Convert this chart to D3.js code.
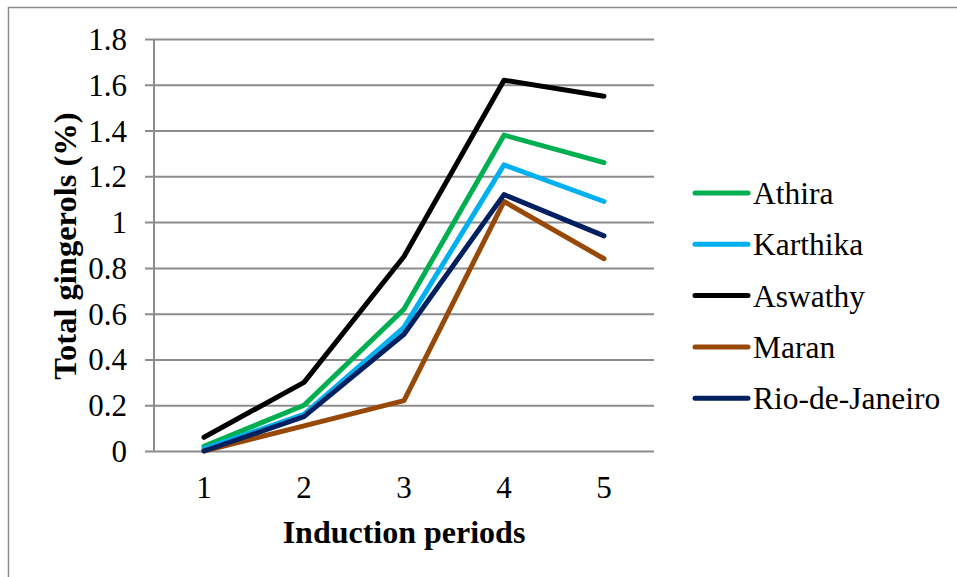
<!DOCTYPE html>
<html>
<head>
<meta charset="utf-8">
<script src="https://cdn.jsdelivr.net/npm/d3@7/dist/d3.min.js"></script>
<style>
  html, body { margin: 0; padding: 0; background: #fff; }
  svg { display: block; }
  svg text { font-family: 'Liberation Serif', 'Times New Roman', Times, 'DejaVu Serif', serif !important; }
</style>
</head>
<body>
<svg id="chart" width="957" height="577"></svg>
<script>
// Induction periods on the x axis
const periods = ["1", "2", "3", "4", "5"];

// Total gingerols (%) per cultivar
const athira   = [0.02, 0.20, 0.62, 1.38, 1.26];
const karthika = [0.01, 0.16, 0.54, 1.25, 1.09];
const aswathy  = [0.06, 0.30, 0.85, 1.62, 1.55];
const maran    = [0.00, 0.11, 0.22, 1.09, 0.84];
const rio      = [0.00, 0.15, 0.51, 1.12, 0.94];

const seriesNames  = ["Athira", "Karthika", "Aswathy", "Maran", "Rio-de-Janeiro"];
const seriesColors = ["#00b050", "#00b0f0", "#000000", "#984807", "#002060"];
const seriesValues = [athira, karthika, aswathy, maran, rio];

const yTicks = [0, 0.2, 0.4, 0.6, 0.8, 1, 1.2, 1.4, 1.6, 1.8];

const svg = d3.select("#chart");

// outer chart frame
svg.append("rect")
  .attr("x", 8.5).attr("y", 7.5)
  .attr("width", 960).attr("height", 580)
  .attr("fill", "none").attr("stroke", "#8c8c8c").attr("stroke-width", 1.5);

const plot = { left: 154, right: 654, top: 39, bottom: 451 };

const x = d3.scaleBand().domain(periods).range([plot.left, plot.right]);
const y = d3.scaleLinear().domain([0, 1.8]).range([plot.bottom, plot.top]);

// horizontal gridlines + ticks on the left
const yAxis = d3.axisLeft(y)
  .tickValues(yTicks)
  .tickFormat(d => String(+d.toFixed(1)))
  .tickSize(-(plot.right - plot.left));

const gy = svg.append("g")
  .attr("transform", `translate(${plot.left},0)`)
  .call(yAxis);
gy.select(".domain").remove();
gy.selectAll(".tick line")
  .attr("x1", -9)
  .attr("stroke", "#8c8c8c").attr("stroke-width", 2);
gy.selectAll(".tick text")
  .attr("font-size", 31).attr("fill", "#000")
  .attr("x", -27).attr("dy", "0.34em");

// vertical axis line
svg.append("line")
  .attr("x1", plot.left).attr("x2", plot.left)
  .attr("y1", plot.top).attr("y2", plot.bottom)
  .attr("stroke", "#8c8c8c").attr("stroke-width", 2);

// category labels along the bottom
const xAxis = d3.axisBottom(x).tickSize(0).tickPadding(25);
const gx = svg.append("g")
  .attr("transform", `translate(0,${plot.bottom})`)
  .call(xAxis);
gx.select(".domain").remove();
gx.selectAll(".tick text")
  .attr("font-size", 31).attr("fill", "#000");

// axis titles
svg.append("text")
  .attr("x", (plot.left + plot.right) / 2).attr("y", 543)
  .attr("text-anchor", "middle")
  .attr("font-size", 32).attr("font-weight", "bold")
  .text("Induction periods");

svg.append("text")
  .attr("transform", "translate(76,246) rotate(-90)")
  .attr("text-anchor", "middle")
  .attr("font-size", 32.5).attr("font-weight", "bold")
  .text("Total gingerols (%)");

// series lines
const line = d3.line()
  .x((d, i) => x(periods[i]) + x.bandwidth() / 2)
  .y(d => y(d));

svg.append("g").selectAll("path")
  .data(seriesValues)
  .join("path")
  .attr("d", d => line(d))
  .attr("fill", "none")
  .attr("stroke", (d, i) => seriesColors[i])
  .attr("stroke-width", 5)
  .attr("stroke-linejoin", "round")
  .attr("stroke-linecap", "round");

// legend
const legend = svg.append("g");
const rows = legend.selectAll("g")
  .data(seriesNames)
  .join("g")
  .attr("transform", (d, i) => `translate(695,${193 + i * 51.3})`);
rows.append("line")
  .attr("x1", 0).attr("x2", 53)
  .attr("stroke", (d, i) => seriesColors[i])
  .attr("stroke-width", 5)
  .attr("stroke-linecap", "round");
rows.append("text")
  .attr("x", 58).attr("y", 11)
  .attr("font-size", 31.5)
  .text(d => d);
</script>
</body>
</html>
